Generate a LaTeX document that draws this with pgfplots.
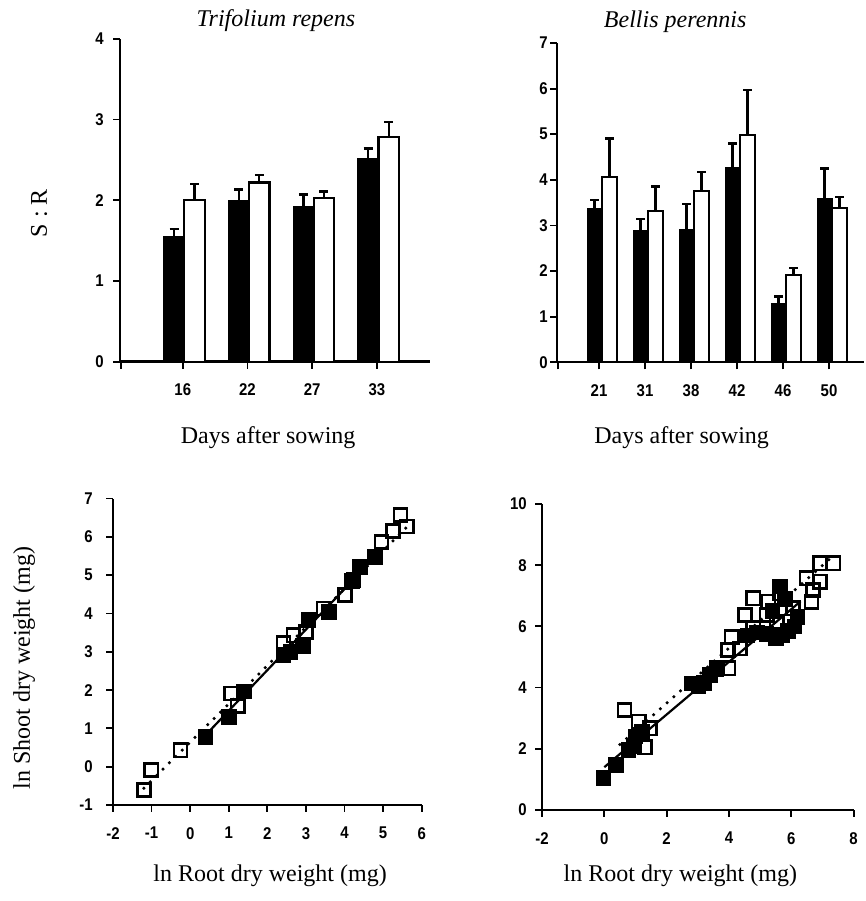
\documentclass[border=0pt]{standalone}
\usepackage{fontspec}
\setmainfont{Liberation Serif}
\newfontfamily\tickfam[FakeStretch=0.88]{Liberation Sans}
\usepackage{pgfplots}
\pgfplotsset{compat=1.18}
\newcommand\tk{\tickfam\bfseries\fontsize{17}{17}\selectfont}
\newcommand\lab{\fontsize{24}{24}\selectfont}
\pgfplotsset{
  base/.style={
    scale only axis, anchor=south west, clip=false,
    axis lines=left,
    axis line style={-, line width=2.4pt},
    tick align=outside, major tick length=7pt,
    tick style={line width=1.8pt, black},
    tick label style={font=\tk},
    xticklabel style={inner sep=0pt, anchor=north},
    yticklabel style={inner sep=0pt, anchor=east},
    xticklabel shift=15pt,
    xlabel style={font=\lab, anchor=center},
    ylabel style={font=\lab, anchor=center},
    title style={font=\lab\itshape, anchor=center},
  },
  errs/.style={
    /pgfplots/error bars/y dir=plus, /pgfplots/error bars/y explicit,
    /pgfplots/error bars/error bar style={line width=2.2pt, black},
    /pgfplots/error bars/error mark options={rotate=90, line width=2.4pt, mark size=4.5pt, black}},
  blackbar/.style={ybar, bar width=#1, bar shift=0pt, fill=black, draw=black, line width=1pt, errs},
  whitebar/.style={ybar, bar width=#1, bar shift=0pt, fill=white, draw=black, line width=2.2pt, errs},
  blacksq/.style={only marks, mark=square*, mark size=7.3pt, mark options={fill=black, draw=black, line width=1pt}},
  whitesq/.style={only marks, mark=square, mark size=6.6pt, mark options={fill=white, draw=black, line width=2.6pt}},
  solidfit/.style={black, line width=2.2pt, no marks},
  dotfit/.style={black, line width=3.5pt, line cap=round, dash pattern=on 0pt off 9pt, no marks},
}
\begin{document}
\begin{tikzpicture}
\useasboundingbox (0pt,0pt) rectangle (865pt,901pt);

% ---------- Top left: Trifolium repens ----------
\begin{axis}[base, at={(120pt,539.3pt)}, width=310pt, height=323pt,
  xmin=0.03, xmax=4.82, ymin=0, ymax=4,
  xtick={1,2,3,4}, xticklabels={16,22,27,33},
  extra x ticks={0.05}, extra x tick labels={},
  ytick={0,1,2,3,4}, yticklabels={0,1,2,3,4},
  yticklabel shift=9pt,
  title={Trifolium repens}, title style={at={(axis description cs:0.503,1.036)}},
  xlabel={Days after sowing}, xlabel style={at={(axis description cs:0.478,-0.235)}},
  ylabel={S : R}, ylabel style={at={(axis description cs:-0.261,0.46)}},
]
\addplot[blackbar=20.5pt] coordinates {
  (0.865,1.55) +- (0,0.09)
  (1.865,1.99) +- (0,0.14)
  (2.865,1.92) +- (0,0.15)
  (3.865,2.52) +- (0,0.12)
};
\addplot[whitebar=20.5pt] coordinates {
  (1.182,2.00) +- (0,0.20)
  (2.182,2.22) +- (0,0.09)
  (3.182,2.03) +- (0,0.08)
  (4.182,2.78) +- (0,0.19)
};
\end{axis}

% ---------- Top right: Bellis perennis ----------
\begin{axis}[base, at={(557pt,538.7pt)}, width=307pt, height=319.3pt,
  xmin=0.087, xmax=6.76, ymin=0, ymax=7,
  xtick={1,2,3,4,5,6}, xticklabels={21,31,38,42,46,50},
  extra x ticks={0.1}, extra x tick labels={},
  ytick={0,1,2,3,4,5,6,7}, yticklabels={0,1,2,3,4,5,6,7},
  yticklabel shift=2pt,
  title={Bellis perennis}, title style={at={(axis description cs:0.385,1.047)}},
  xlabel={Days after sowing}, xlabel style={at={(axis description cs:0.406,-0.237)}},
]
\addplot[blackbar=15pt] coordinates {
  (0.902,3.38) +- (0,0.18)
  (1.902,2.90) +- (0,0.24)
  (2.902,2.92) +- (0,0.55)
  (3.902,4.27) +- (0,0.53)
  (4.902,1.28) +- (0,0.16)
  (5.902,3.60) +- (0,0.65)
};
\addplot[whitebar=15pt] coordinates {
  (1.228,4.07) +- (0,0.84)
  (2.228,3.32) +- (0,0.53)
  (3.228,3.76) +- (0,0.41)
  (4.228,4.98) +- (0,0.99)
  (5.228,1.91) +- (0,0.16)
  (6.228,3.38) +- (0,0.25)
};
\end{axis}

% ---------- Bottom left ----------
\begin{axis}[base, at={(113pt,96pt)}, width=308.7pt, height=306.4pt,
  xmin=-2, xmax=6, ymin=-1, ymax=7,
  xtick={-2,-1,0,1,2,3,4,5,6}, xticklabels={-2,-1,0,1,2,3,4,5,6},
  ytick={-1,0,1,2,3,4,5,6,7}, yticklabels={-1,0,1,2,3,4,5,6,7},
  yticklabel shift=13pt,
  xlabel={ln Root dry weight (mg)}, xlabel style={at={(axis description cs:0.509,-0.232)}},
  ylabel={ln Shoot dry weight (mg)}, ylabel style={at={(axis description cs:-0.288,0.447)}},
]
\addplot[solidfit] coordinates {(0.3,0.72) (5.0,5.70)};
\addplot[dotfit] coordinates {(-1.2,-0.56) (5.6,6.24)};
\addplot[blacksq] coordinates {
  (0.40,0.78) (1.00,1.30) (1.39,1.96) (2.42,2.91) (2.60,3.00) (2.92,3.15)
  (3.07,3.83) (3.59,4.04) (4.23,4.87) (4.40,5.22) (4.79,5.48)
};
\addplot[whitesq] coordinates {
  (-1.20,-0.61) (-1.01,-0.09) (-0.25,0.43) (1.06,1.91) (1.23,1.58)
  (2.42,3.23) (2.68,3.43) (3.00,3.52) (3.46,4.13) (4.01,4.48) (4.19,4.84)
  (4.96,5.87) (5.26,6.15) (5.45,6.57) (5.61,6.27)
};
\end{axis}

% ---------- Bottom right ----------
\begin{axis}[base, at={(542pt,91pt)}, width=311.6pt, height=306pt,
  xmin=-2, xmax=8, ymin=0, ymax=10,
  xtick={-2,0,2,4,6,8}, xticklabels={-2,0,2,4,6,8},
  ytick={0,2,4,6,8,10}, yticklabels={0,2,4,6,8,10},
  yticklabel shift=8pt,
  xlabel={ln Root dry weight (mg)}, xlabel style={at={(axis description cs:0.444,-0.216)}},
]
\addplot[solidfit] coordinates {(0,1.4) (6.3,6.82)};
\addplot[dotfit] coordinates {(0.5,2.14) (7.3,8.26)};
\addplot[blacksq] coordinates {
  (-0.03,1.04) (0.38,1.47) (0.78,1.96) (1.00,2.40) (1.20,2.55) (0.95,2.10)
  (2.81,4.14) (3.02,4.03) (3.20,4.15) (3.39,4.41) (3.60,4.60)
  (4.60,5.70) (4.90,5.80) (5.20,5.75) (5.50,5.60) (5.70,5.70) (5.90,5.85)
  (6.10,6.00) (6.20,6.30) (5.64,7.30) (5.80,6.90) (5.40,6.50)
};
\addplot[whitesq] coordinates {
  (0.65,3.27) (1.10,2.89) (1.47,2.67) (1.31,2.05)
  (3.61,4.63) (3.98,4.63) (3.98,5.23) (4.09,5.66) (4.36,5.28)
  (4.52,6.37) (4.78,6.92) (4.78,5.94) (5.21,6.37) (5.26,6.81)
  (5.53,6.15) (5.64,7.08) (6.06,6.59) (6.49,7.57) (6.65,6.81)
  (6.70,7.19) (6.92,7.46) (6.92,8.06) (7.35,8.06)
};
\end{axis}
\end{tikzpicture}
\end{document}
